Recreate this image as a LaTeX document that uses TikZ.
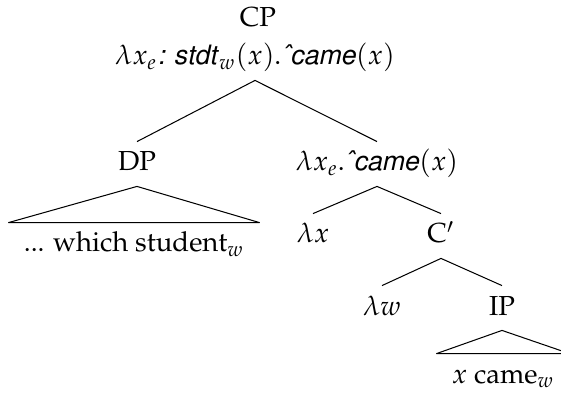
\documentclass[tikz,border=0pt]{standalone}
\usepackage[T1]{fontenc}
\usepackage{mathpazo}
\usepackage[scaled=0.97]{helvet}
\newcommand{\sem}[1]{\textsf{\itshape #1}}

\begin{document}
\begin{tikzpicture}[x=0.436pt, y=-0.436pt, line width=0.45pt, line join=round,
  every node/.style={font=\fontsize{12}{14}\selectfont},
  lbl/.style={anchor=base, inner xsep=1pt, inner ysep=4.3pt, text height=8.3pt, text depth=2.2pt},
  roof/.style={lbl, inner xsep=6.5pt}]

  %% ════ 结点（基线坐标，像素单位）════
  \node[lbl] (cp)      at (258,27)  {CP};
  \node[lbl] (cpsem)   at (255,65)  {$\lambda x_e$\sem{: stdt}$_w(x)$.\sem{\^{}came}$(x)$};
  \node[lbl] (dp)      at (137,171) {DP};
  \node[lbl] (lxsem)   at (377,171) {$\lambda x_e$.\sem{\^{}came}$(x)$};
  \node[roof] (dpwords) at (134,252) {... which student$_w$};
  \node[lbl] (lx)      at (313,243) {$\lambda x$};
  \node[lbl] (cbar)    at (441,243) {C$'$};
  \node[lbl] (lw)      at (382,315) {$\lambda w$};
  \node[lbl] (ip)      at (502,315) {IP};
  \node[roof] (ipwords) at (503,383) {$x$ came$_w$};

  %% ════ 树枝 ════
  \draw (dp.north) -- (cpsem.south) -- (lxsem.north);
  \draw (lx.north) -- (lxsem.south) -- (cbar.north);
  \draw (lw.north) -- (cbar.south) -- (ip.north);

  %% ════ 三角（roof）════
  \draw (dp.south) -- (dpwords.north west) -- (dpwords.north east) -- cycle;
  \draw (ip.south) -- (ipwords.north west) -- (ipwords.north east) -- cycle;

  % 钉死画布
  \pgfresetboundingbox
  \path[use as bounding box] (0,0) rectangle (561,394);
\end{tikzpicture}
\end{document}
